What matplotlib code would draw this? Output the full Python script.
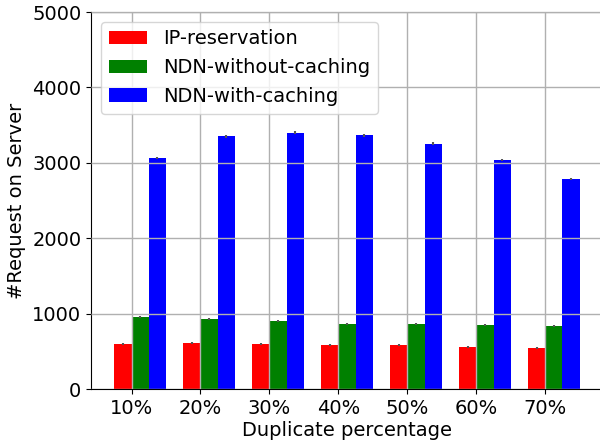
import matplotlib
matplotlib.use("Agg")
import matplotlib.pyplot as plt
import numpy as np

categories = ['10%', '20%', '30%', '40%', '50%', '60%', '70%']
ip_reservation = [597, 612, 597, 584, 584, 557, 545]
ndn_without_caching = [955, 928, 902, 862, 862, 849, 836]
ndn_with_caching = [3064, 3350, 3400, 3365, 3250, 3037, 2785]
ip_err = [8, 12, 12, 8, 10, 12, 15]
ndn_no_cache_err = [8, 15, 15, 15, 15, 15, 12]
ndn_cache_err = [10, 20, 20, 20, 20, 10, 15]

plt.rcParams['font.size'] = 14

fig = plt.figure(figsize=(6, 4.44), dpi=100)
ax = fig.add_axes([91 / 600, (444 - 389) / 444, 512 / 600, 377 / 444])

x = np.arange(len(categories))
w = 0.25
err_kw = dict(ecolor='#555555', elinewidth=1.5, capsize=0)
ax.bar(x - w, ip_reservation, w, align='edge', color='red',
       yerr=ip_err, error_kw=err_kw, label='IP-reservation')
ax.bar(x, ndn_without_caching, w, align='edge', color='green',
       yerr=ndn_no_cache_err, error_kw=err_kw, label='NDN-without-caching')
ax.bar(x + w, ndn_with_caching, w, align='edge', color='blue',
       yerr=ndn_cache_err, error_kw=err_kw, label='NDN-with-caching')

ax.set_xticks(x)
ax.set_xticklabels(categories)
ax.set_ylim(0, 5000)
ax.set_xlim(-0.5875, 6.8375)
ax.set_axisbelow(False)
ax.grid(True, color='#b0b0b0', linewidth=1)
ax.set_xlabel('Duplicate percentage', labelpad=2)
ax.set_ylabel('#Request on Server')
ax.legend(loc='upper left', fontsize=14)

fig.savefig('out.png', dpi=100)
